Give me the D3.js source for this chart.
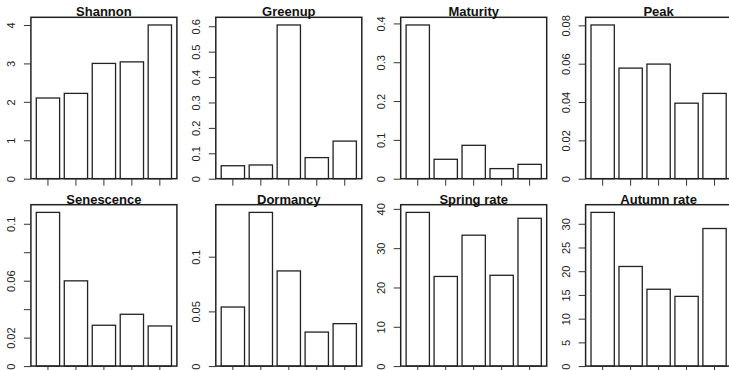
<!DOCTYPE html>
<html>
<head>
<meta charset="utf-8">
<script src="https://cdn.jsdelivr.net/npm/d3@7"></script>
<style>
  body { margin: 0; background: #fff; overflow: hidden; }
  svg { display: block; font-family: "Liberation Sans", Arial, sans-serif; }
</style>
</head>
<body>
<div id="chart"></div>
<script>
// panel titles, in drawing order (row by row)
var titles = ["Shannon", "Greenup", "Maturity", "Peak",
              "Senescence", "Dormancy", "Spring rate", "Autumn rate"];

// bar heights, five groups per panel
var shannon    = [2.10, 2.22, 3.00, 3.04, 4.00];
var greenup    = [0.051, 0.054, 0.605, 0.083, 0.148];
var maturity   = [0.396, 0.050, 0.086, 0.026, 0.037];
var peak       = [0.0802, 0.0577, 0.0598, 0.0394, 0.0445];
var senescence = [0.108, 0.0599, 0.0287, 0.0364, 0.0282];
var dormancy   = [0.054, 0.1405, 0.087, 0.0311, 0.0388];
var springRate = [39.1, 22.8, 33.3, 23.1, 37.6];
var autumnRate = [32.4, 21.0, 16.2, 14.7, 29.0];

// y tick values and their labels ("" = tick without label, as R drops overlapping ones)
var shannonTicks    = [0, 1, 2, 3, 4];
var shannonLabels   = ["0", "1", "2", "3", "4"];
var greenupTicks    = [0, 0.1, 0.2, 0.3, 0.4, 0.5, 0.6];
var greenupLabels   = ["0", "0.1", "0.2", "0.3", "0.4", "0.5", "0.6"];
var maturityTicks   = [0, 0.1, 0.2, 0.3, 0.4];
var maturityLabels  = ["0", "0.1", "0.2", "0.3", "0.4"];
var peakTicks       = [0, 0.02, 0.04, 0.06, 0.08];
var peakLabels      = ["0", "0.02", "0.04", "0.06", "0.08"];
var senTicks        = [0, 0.02, 0.04, 0.06, 0.08, 0.1];
var senLabels       = ["0", "0.02", "", "0.06", "", "0.1"];
var dormTicks       = [0, 0.05, 0.1];
var dormLabels      = ["0", "0.05", "0.1"];
var springTicks     = [0, 10, 20, 30, 40];
var springLabels    = ["0", "10", "20", "30", "40"];
var autumnTicks     = [0, 5, 10, 15, 20, 25, 30];
var autumnLabels    = ["0", "5", "10", "15", "20", "25", "30"];

var values = [shannon, greenup, maturity, peak, senescence, dormancy, springRate, autumnRate];
var ticks  = [shannonTicks, greenupTicks, maturityTicks, peakTicks, senTicks, dormTicks, springTicks, autumnTicks];
var labels = [shannonLabels, greenupLabels, maturityLabels, peakLabels, senLabels, dormLabels, springLabels, autumnLabels];

var svgWidth = 729, svgHeight = 370;

// layout of the 2 x 4 grid (the original figure is a bit wider than the crop)
var colStep = 184.9, rowStep = 187.4;
var margin = {top: 17.3, left: 30.9};
var plotW = 146, plotH = 161.4;

var svg = d3.select("#chart")
  .append("svg")
  .attr("width", svgWidth)
  .attr("height", svgHeight);

titles.forEach(function(title, k) {
  var col = k % 4, row = Math.floor(k / 4);
  var data = values[k];

  var g = svg.append("g")
    .attr("transform", "translate(" + (margin.left + col * colStep) + "," + (margin.top + row * rowStep) + ")");

  // R barplot: width 1, space 0.2, 4% extension on x
  var x = d3.scaleBand()
    .domain(d3.range(data.length))
    .range([0, plotW])
    .paddingInner(1 / 6)
    .paddingOuter(0.1933);

  var y = d3.scaleLinear()
    .domain([0, d3.max(data) * 1.05])
    .range([plotH, 0]);

  // bars
  g.selectAll("rect.bar")
    .data(data)
    .enter()
    .append("rect")
      .attr("class", "bar")
      .attr("x", function(d, i) { return x(i); })
      .attr("y", function(d) { return y(d); })
      .attr("width", x.bandwidth())
      .attr("height", function(d) { return plotH - y(d); })
      .style("fill", "#fff")
      .style("stroke", "#222")
      .style("stroke-width", 1.3);

  // box round the plot region
  g.append("rect")
    .attr("width", plotW)
    .attr("height", plotH)
    .style("fill", "none")
    .style("stroke", "#222")
    .style("stroke-width", 1.5);

  // x axis: ticks only, no labels
  var xAxis = g.append("g")
    .attr("transform", "translate(0," + plotH + ")")
    .call(d3.axisBottom(x).tickSize(7).tickSizeOuter(0).tickFormat(""));
  xAxis.select(".domain").remove();
  xAxis.selectAll("line").style("stroke", "#333").style("stroke-width", 1);

  // y axis with rotated labels
  var yAxis = g.append("g")
    .call(d3.axisLeft(y)
      .tickValues(ticks[k])
      .tickSize(7)
      .tickSizeOuter(0)
      .tickFormat(function(d, i) { return labels[k][i]; }));
  yAxis.select(".domain").remove();
  yAxis.selectAll("line").style("stroke", "#333").style("stroke-width", 1);
  yAxis.selectAll("text")
    .attr("x", 0)
    .attr("dy", 0)
    .attr("transform", "translate(-15.5,0) rotate(-90)")
    .attr("text-anchor", "middle")
    .style("font-size", "11px")
    .style("font-family", "'Liberation Sans', Arial, sans-serif")
    .style("fill", "#222");

  // title
  g.append("text")
    .attr("x", plotW / 2)
    .attr("y", -0.9)
    .attr("text-anchor", "middle")
    .style("font-size", "13px")
    .style("font-weight", "bold")
    .style("fill", "#111")
    .text(title);
});
</script>
</body>
</html>
